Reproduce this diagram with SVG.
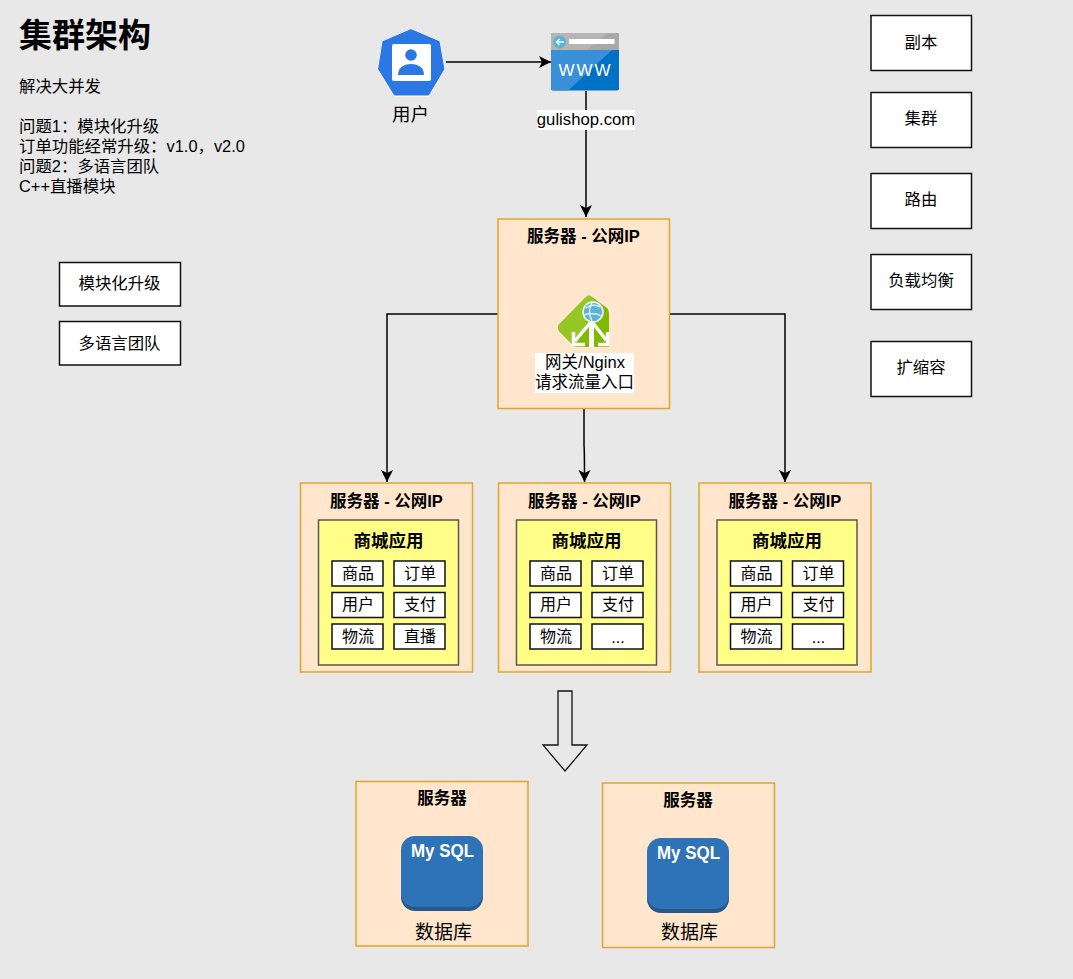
<svg xmlns="http://www.w3.org/2000/svg" width="1073" height="979" viewBox="0 0 1073 979">
<style>
text{font-family:"Liberation Sans","Noto Sans CJK SC",sans-serif;fill:#000}
.c{text-anchor:middle}
.b{font-weight:bold}
.s{fill:#ffe6cc;stroke:#e0a52a;stroke-width:1.5}
.a{fill:#ffff88;stroke:#5a5a50;stroke-width:1.5}
.w{fill:#fff;stroke:#111;stroke-width:1.5}
.h{font-size:16.500px;font-weight:bold;text-anchor:middle}
.m{font-size:17.500px;font-weight:bold;text-anchor:middle}
.t16{font-size:16px}
.t{font-size:16.400px}
.e{fill:none;stroke:#000;stroke-width:1.500}
</style>
<defs>
<marker id="arr" viewBox="0 0 13 13" refX="12.500" refY="6.500" markerWidth="13" markerHeight="13" markerUnits="userSpaceOnUse" orient="auto"><path d="M0.500 0.500L12.500 6.500L0.500 12.500L3.500 6.500Z" fill="#000"/></marker>
<g id="cell"><rect class="w" width="51" height="25"/></g>
<g id="mysql">
<rect x="0" y="4" width="82" height="71" rx="14" fill="#28598c"/>
<rect x="0" y="0" width="82" height="71" rx="14" fill="#2e73b8"/>
<text x="41.500" y="21" class="c b" style="font-size:19px;fill:#fff" textLength="63" lengthAdjust="spacingAndGlyphs">My SQL</text>
</g>
</defs>
<rect width="1073" height="979" fill="#e8e8e8"/>

<g id="title">
<text x="19" y="47" class="b" style="font-size:33px">集群架构</text>
<g class="t">
<text x="19" y="92">解决大并发</text>
<text x="19" y="132">问题1：模块化升级</text>
<text x="19" y="152">订单功能经常升级：v1.0，v2.0</text>
<text x="19" y="172">问题2：多语言团队</text>
<text x="19" y="192">C++直播模块</text>
</g>
</g>

<g id="connectors">
<path class="e" d="M446 62H551" marker-end="url(#arr)"/>
<path class="e" d="M586 91V217" marker-end="url(#arr)"/>
<path class="e" d="M498 314H387V482" marker-end="url(#arr)"/>
<path class="e" d="M584 408.500V445Q584.500 450 584.500 482" marker-end="url(#arr)"/>
<path class="e" d="M669.500 314H785V482" marker-end="url(#arr)"/>
</g>

<g id="user">
<path d="M411 30L439 42L443.500 69L428 94.500H395L379 69L383 42Z" fill="#2b78e4" stroke="#2b78e4" stroke-width="3" stroke-linejoin="round"/>
<path d="M411 28.500L440 41L445 69L429 96H394L377.500 69L382 41Z" fill="none" stroke="#fff" stroke-width="1" stroke-linejoin="round"/>
<rect x="392" y="44" width="39" height="37" rx="2" fill="#fff"/>
<circle cx="411" cy="55" r="5.800" fill="#2b78e4"/>
<path d="M398 75C398 68 403 64 411 64S424 68 424 75Z" fill="#2b78e4"/>
<text x="410.500" y="121" class="c" style="font-size:18.500px">用户</text>
</g>

<g id="www">
<rect x="551" y="33" width="68" height="57.500" rx="2" fill="#0072c6"/>
<path d="M551 50H612L568 90.500H553Q551 90.500 551 88.500Z" fill="#3a90d6"/>
<path d="M553 33H617Q619 33 619 35V50H551V35Q551 33 553 33Z" fill="#a9a9a9"/>
<path d="M553 33H607L587 50H551V35Q551 33 553 33Z" fill="#b5b5b5"/>
<circle cx="559.500" cy="42" r="6.500" fill="#59b4d9"/>
<path d="M564 42H556.500M559.500 39L556.500 42L559.500 45" fill="none" stroke="#fff" stroke-width="1.500"/>
<rect x="569" y="39" width="45.500" height="5" fill="#fff"/>
<text x="585.500" y="76" class="c" style="font-size:17px;fill:#fff;letter-spacing:2px">WWW</text>
<rect x="537" y="110" width="98" height="20" fill="#fff"/>
<text x="586" y="125" class="c" style="font-size:16.700px">gulishop.com</text>
</g>

<g id="gateway">
<rect class="s" x="498" y="219" width="171.500" height="189.500"/>
<text x="583.500" y="242" class="h">服务器 - 公网IP</text>
<path d="M558.500 325L586 297Q589 294 592 297L607 308Q609 310 609 313V347H577Q575 347 573 345L559 331Q557 328 558.500 325Z" fill="#7fba00"/>
<path d="M558.500 325L586 297Q589 294 592 297L596 302L575 347Q575 347 573 345L559 331Q557 328 558.500 325Z" fill="#95c825"/>
<circle cx="593" cy="312" r="10" fill="#59b4d9" stroke="#fff" stroke-width="1.500"/>
<path d="M586 308Q593 303 600 307M584 315Q592 312 602 316M592 303Q587 312 592 321" fill="none" stroke="#fff" stroke-width="1.200"/>
<path d="M591.500 322V347" fill="none" stroke="#fff" stroke-width="5"/>
<path d="M590 323L575 341M593 323L606 340" fill="none" stroke="#fff" stroke-width="3.500"/>
<path d="M573.500 332V344.500H585" fill="none" stroke="#fff" stroke-width="3.500"/>
<path d="M607.500 332V344.500H598" fill="none" stroke="#fff" stroke-width="3.500"/>
<rect x="535" y="353" width="99" height="40" fill="#fff"/>
<text x="585" y="368" class="c" style="font-size:16.500px">网关/Nginx</text>
<text x="584.500" y="388" class="c" style="font-size:16.500px">请求流量入口</text>
</g>

<g id="server1">
<rect class="s" x="300.500" y="483" width="172" height="189"/>
<text x="386.500" y="507" class="h">服务器 - 公网IP</text>
<rect class="a" x="318.500" y="520" width="140" height="145"/>
<text x="388.500" y="547" class="m">商城应用</text>
<use href="#cell" x="332" y="561"/><use href="#cell" x="394" y="561"/>
<use href="#cell" x="332" y="592.500"/><use href="#cell" x="394" y="592.500"/>
<use href="#cell" x="332" y="624"/><use href="#cell" x="394" y="624"/>
<text x="358" y="579" class="c t16">商品</text><text x="420" y="579" class="c t16">订单</text>
<text x="358" y="610" class="c t16">用户</text><text x="420" y="610" class="c t16">支付</text>
<text x="358" y="642" class="c t16">物流</text><text x="420" y="642" class="c t16">直播</text>
</g>

<g id="server2">
<rect class="s" x="498.500" y="483" width="172" height="189"/>
<text x="584.500" y="507" class="h">服务器 - 公网IP</text>
<rect class="a" x="516.500" y="520" width="140" height="145"/>
<text x="586.500" y="547" class="m">商城应用</text>
<use href="#cell" x="530" y="561"/><use href="#cell" x="592" y="561"/>
<use href="#cell" x="530" y="592.500"/><use href="#cell" x="592" y="592.500"/>
<use href="#cell" x="530" y="624"/><use href="#cell" x="592" y="624"/>
<text x="556" y="579" class="c t16">商品</text><text x="618" y="579" class="c t16">订单</text>
<text x="556" y="610" class="c t16">用户</text><text x="618" y="610" class="c t16">支付</text>
<text x="556" y="642" class="c t16">物流</text><text x="618" y="643" class="c t16">...</text>
</g>

<g id="server3">
<rect class="s" x="699" y="483" width="172" height="189"/>
<text x="785" y="507" class="h">服务器 - 公网IP</text>
<rect class="a" x="717" y="520" width="140" height="145"/>
<text x="787" y="547" class="m">商城应用</text>
<use href="#cell" x="730.500" y="561"/><use href="#cell" x="792.500" y="561"/>
<use href="#cell" x="730.500" y="592.500"/><use href="#cell" x="792.500" y="592.500"/>
<use href="#cell" x="730.500" y="624"/><use href="#cell" x="792.500" y="624"/>
<text x="756.500" y="579" class="c t16">商品</text><text x="818.500" y="579" class="c t16">订单</text>
<text x="756.500" y="610" class="c t16">用户</text><text x="818.500" y="610" class="c t16">支付</text>
<text x="756.500" y="642" class="c t16">物流</text><text x="818.500" y="643" class="c t16">...</text>
</g>

<g id="down-arrow">
<path d="M558 691H572V745H587L565 771L543 745H558Z" fill="none" stroke="#111" stroke-width="1.300"/>
</g>

<g id="db1">
<rect class="s" x="356" y="781.500" width="172" height="164.500"/>
<text x="442" y="804" class="h">服务器</text>
<use href="#mysql" x="401" y="836"/>
<text x="443.500" y="939" class="c" style="font-size:19px">数据库</text>
</g>
<g id="db2">
<rect class="s" x="602.500" y="783" width="172" height="164.500"/>
<text x="688" y="806" class="h">服务器</text>
<use href="#mysql" x="647" y="838"/>
<text x="689.500" y="939" class="c" style="font-size:19px">数据库</text>
</g>

<g id="n-modular"><rect class="w" x="59.500" y="262.500" width="121" height="43.500"/><text x="119.500" y="289" class="c t">模块化升级</text></g>
<g id="n-lang"><rect class="w" x="59.500" y="321.500" width="121" height="43.500"/><text x="119.500" y="349" class="c t">多语言团队</text></g>
<g id="n-replica"><rect class="w" x="871" y="15.500" width="100.500" height="55"/><text x="921" y="48" class="c t">副本</text></g>
<g id="n-cluster"><rect class="w" x="871" y="92.500" width="100.500" height="55"/><text x="921" y="124" class="c t">集群</text></g>
<g id="n-route"><rect class="w" x="871" y="173.500" width="100.500" height="55"/><text x="921" y="205" class="c t">路由</text></g>
<g id="n-lb"><rect class="w" x="871" y="254.500" width="100.500" height="55"/><text x="921" y="286" class="c t">负载均衡</text></g>
<g id="n-scale"><rect class="w" x="871" y="341.500" width="100.500" height="55"/><text x="921" y="373" class="c t">扩缩容</text></g>
</svg>
